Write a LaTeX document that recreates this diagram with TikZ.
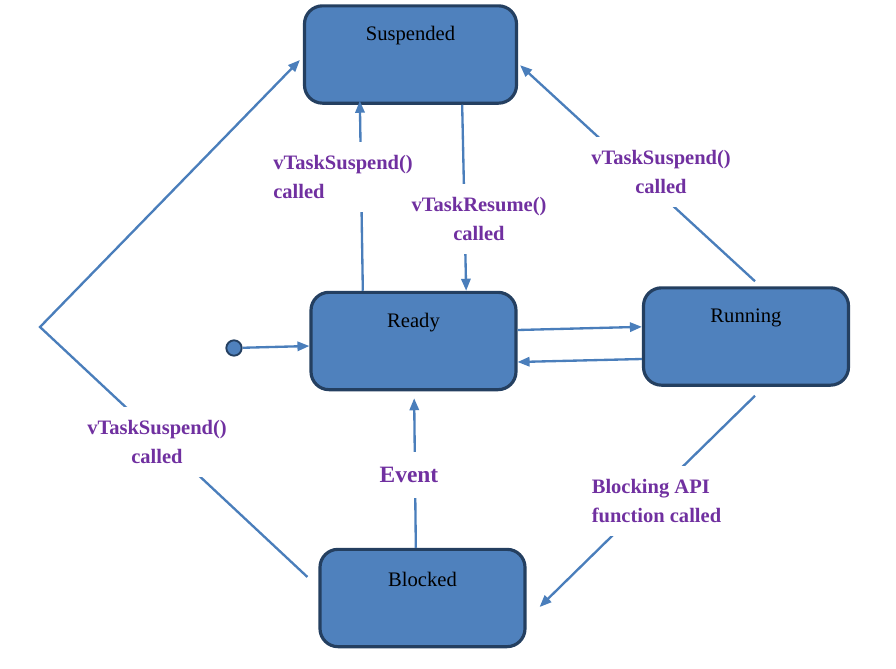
\documentclass[tikz,border=0pt]{standalone}
\usepackage{fontspec}
\setmainfont{Liberation Serif}
\usepackage{tikz}
\usetikzlibrary{arrows.meta,positioning}
\definecolor{boxblue}{HTML}{4F81BD}
\definecolor{boxedge}{HTML}{243F60}
\definecolor{linkblue}{HTML}{4A7EBB}
\definecolor{labelpurple}{HTML}{7030A0}
\tikzset{
    statebox/.style={draw=boxedge,fill=boxblue,line width=2.7pt,rounded corners=5.4mm,
      minimum width=61.5mm,minimum height=29.2mm,inner sep=0pt},
    statetext/.style={anchor=center,yshift=-9.5mm,text=black,
      font=\fontsize{17.6}{20}\selectfont},
    startdot/.style={circle,draw=boxedge,fill=boxblue,line width=1.6pt,
      minimum size=4.6mm,inner sep=0pt},
    flowarrow/.style={-{Triangle[length=3.6mm,width=2.8mm]},draw=linkblue,
      line width=0.7mm},
    edgelabel/.style={fill=white,inner sep=3.8mm,text=labelpurple,
      font=\bfseries\fontsize{17.5}{25.5}\selectfont}
}
\begin{document}
\begin{tikzpicture}[x=0.3mm,y=-0.3mm]
  \useasboundingbox (0,0) rectangle (896,669);
  % states
  \node[statebox,minimum width=63.6mm,label={[statetext]north:Suspended}] (suspended) at (410.5,54.5) {};
  \node[statebox,label={[statetext]north:Ready}] (ready) at (413.5,341) {};
  \node[statebox,label={[statetext]north:Running}] (running) at (746,336.5) {};
  \node[statebox,label={[statetext]north:Blocked}] (blocked) at (422.5,598) {};
  \node[startdot] (start) at (234,348) {};
  \coordinate (bend) at (40,327);
  % transitions
  \draw[flowarrow] (start) -- ([yshift=-1.5mm]ready.west);
  \draw[flowarrow] ([xshift=-15.2mm]ready.north) -- ([xshift=-15.2mm,yshift=1.2mm]suspended.south);
  \draw[flowarrow] ([xshift=15.5mm]suspended.south) -- ([xshift=15.8mm]ready.north);
  \draw[flowarrow] ([xshift=2.7mm,yshift=1.5mm]running.north) -- ([xshift=0.6mm,yshift=-3.2mm]suspended.east);
  \draw[flowarrow] ([yshift=3.3mm]ready.east) -- ([yshift=2.9mm]running.west);
  \draw[flowarrow] ([yshift=-6.75mm]running.west) -- ([yshift=-6.3mm]ready.east);
  \draw[flowarrow] ([xshift=2.7mm,yshift=-2.7mm]running.south) -- ([xshift=3.9mm,yshift=-2.7mm]blocked.east);
  \draw[flowarrow] ([xshift=-2mm]blocked.north) -- ([xshift=0.2mm,yshift=-2.1mm]ready.south);
  \draw[flowarrow] ([xshift=-3.3mm,yshift=6.3mm]blocked.west) -- (bend)
    -- ([xshift=-0.9mm,yshift=-1.65mm]suspended.west);
  % labels
  \node[edgelabel,align=left] (suspendready) at (343,177) {vTaskSuspend()\\called};
  \node[edgelabel,align=center] (resumeready) at (479,219) {vTaskResume()\\called};
  \node[edgelabel,align=center] (suspendrunning) at (661,172) {vTaskSuspend()\\called};
  \node[edgelabel,align=left] (blocking) at (656.5,501) {Blocking API\\function called};
  \node[edgelabel,inner ysep=4.5mm,font=\bfseries\fontsize{20}{24}\selectfont] (event) at (409,475) {Event};
  \node[edgelabel,align=center] (suspendblocked) at (157,442) {vTaskSuspend()\\called};
\end{tikzpicture}
\end{document}
